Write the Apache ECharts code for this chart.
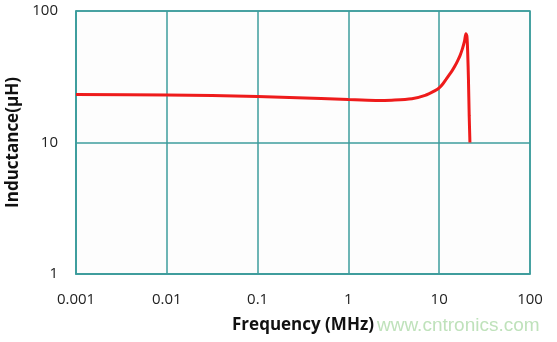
<!DOCTYPE html>
<html>
<head>
<meta charset="utf-8">
<script src="https://cdn.jsdelivr.net/npm/echarts@6/dist/echarts.min.js"></script>
<style>
  html, body { margin: 0; padding: 0; background: #fff; }
  #chart { width: 557px; height: 342px; }
</style>
</head>
<body>
<div id="chart"></div>
<script>
// frequency (MHz) vs inductance (uH)
var freq = [0.001, 0.01, 0.1, 0.5, 1, 2, 3, 5, 7, 9, 10, 11, 12, 13, 14, 15, 16, 17, 18, 19, 19.7, 20.2, 20.6, 21, 21.4, 21.8];
var inductance = [23.2, 23.0, 22.4, 21.6, 21.2, 20.9, 21.0, 21.5, 22.8, 24.8, 26, 28, 30.5, 33, 35.5, 38.5, 42, 46, 51.5, 59, 67, 64, 48, 30, 16, 10];
var xTickLabels = ['0.001', '0.01', '0.1', '1', '10', '100'];
var yTickLabels = ['1', '10', '100'];

var teal = '#3d9c9c';
var myChart = echarts.init(document.getElementById('chart'));
myChart.setOption({
  animation: false,
  grid: {
    left: 76, right: 27, top: 11, bottom: 68,
    outerBoundsMode: 'none', containLabel: false,
    show: true, backgroundColor: '#fdfdfd', borderColor: teal, borderWidth: 1.5
  },
  xAxis: {
    type: 'log', logBase: 10, min: 0.001, max: 100,
    name: 'Frequency (MHz)', nameLocation: 'middle', nameGap: 43,
    nameTextStyle: { fontFamily: 'Open Sans', fontWeight: 'bold', fontSize: 17, color: '#111' },
    axisLine: { show: true, lineStyle: { color: teal, width: 1.5 } },
    axisTick: { show: false },
    splitLine: { show: true, lineStyle: { color: teal, width: 1.5 } },
    axisLabel: {
      margin: 18, fontFamily: 'Open Sans', fontSize: 15, color: '#222',
      formatter: function (v) { return xTickLabels[Math.round(Math.log10(v)) + 3]; }
    }
  },
  yAxis: {
    type: 'log', logBase: 10, min: 1, max: 100,
    name: 'Inductance(\u03bcH)', nameLocation: 'middle', nameGap: 50,
    nameTextStyle: { fontFamily: 'Open Sans', fontWeight: 'bold', fontSize: 17, color: '#111' },
    axisLine: { show: true, lineStyle: { color: teal, width: 1.5 } },
    axisTick: { show: false },
    splitLine: { show: true, lineStyle: { color: teal, width: 1.5 } },
    axisLabel: {
      margin: 18, fontFamily: 'Open Sans', fontSize: 15, color: '#222',
      formatter: function (v) { return yTickLabels[Math.round(Math.log10(v))]; }
    }
  },
  series: [{
    type: 'line',
    data: freq.map(function (f, i) { return [f, inductance[i]]; }),
    showSymbol: false,
    smooth: 0.3,
    lineStyle: { color: '#ee1b1b', width: 3 }
  }],
  graphic: [{
    type: 'text', left: 377, top: 316,
    style: { text: 'www.cntronics.com', fill: '#bfe2bb', font: '19px "Liberation Sans", Arial' }
  }]
});
</script>
</body>
</html>
